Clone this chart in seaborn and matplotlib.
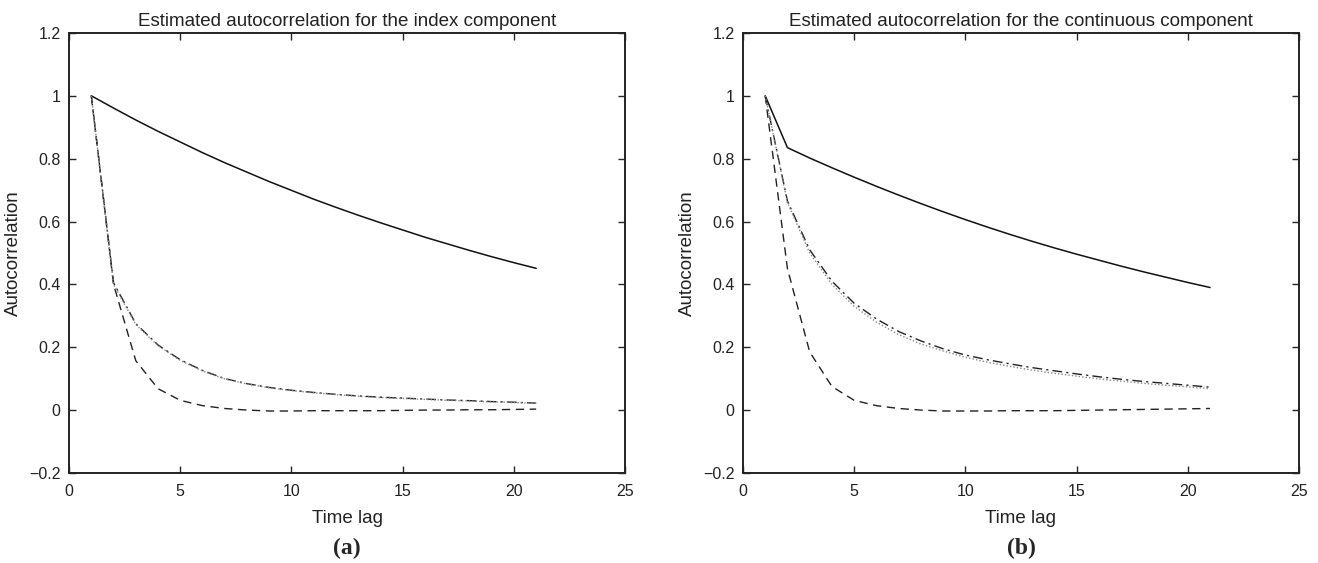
import numpy as np
import pandas as pd
import matplotlib.pyplot as plt
import seaborn as sns

# lags 1..21
lags = list(range(1, 22))

# panel (a): index component
a_solid = [1.0, 0.961, 0.923, 0.887, 0.853, 0.819, 0.787, 0.757, 0.727, 0.699, 0.671,
           0.645, 0.620, 0.596, 0.573, 0.550, 0.529, 0.508, 0.488, 0.469, 0.451]
a_dashed = [1.0, 0.40, 0.157, 0.068, 0.031, 0.014, 0.005, 0.0, -0.003, -0.003, -0.002,
            -0.002, -0.002, -0.002, -0.001, 0.0, 0.0, 0.001, 0.001, 0.002, 0.003]
a_dashdot = [1.0, 0.405, 0.275, 0.207, 0.160, 0.126, 0.100, 0.084, 0.072, 0.063, 0.056,
             0.050, 0.045, 0.041, 0.038, 0.035, 0.032, 0.030, 0.027, 0.025, 0.022]
a_dotted = [1.0, 0.400, 0.272, 0.205, 0.158, 0.124, 0.099, 0.083, 0.071, 0.062, 0.055,
            0.049, 0.044, 0.040, 0.037, 0.034, 0.031, 0.029, 0.026, 0.024, 0.021]

# panel (b): continuous component
b_solid = [1.0, 0.835, 0.802, 0.771, 0.741, 0.712, 0.684, 0.657, 0.631, 0.606, 0.582,
           0.559, 0.537, 0.516, 0.496, 0.477, 0.458, 0.440, 0.423, 0.406, 0.390]
b_dashed = [1.0, 0.45, 0.185, 0.075, 0.031, 0.014, 0.005, 0.0, -0.003, -0.003, -0.003,
            -0.002, -0.002, -0.002, -0.001, 0.0, 0.001, 0.002, 0.003, 0.004, 0.005]
b_dashdot = [1.0, 0.665, 0.510, 0.410, 0.340, 0.290, 0.250, 0.220, 0.195, 0.175, 0.160,
             0.147, 0.135, 0.125, 0.115, 0.106, 0.098, 0.091, 0.085, 0.079, 0.073]
b_dotted = [1.0, 0.660, 0.500, 0.400, 0.330, 0.280, 0.240, 0.210, 0.188, 0.168, 0.152,
            0.139, 0.127, 0.117, 0.108, 0.099, 0.092, 0.085, 0.079, 0.074, 0.068]

titles = ['Estimated autocorrelation for the index component',
          'Estimated autocorrelation for the continuous component']
panel_tags = ['(a)', '(b)']

sns.set_style('ticks')
plt.rcParams['font.family'] = ['Liberation Sans', 'DejaVu Sans']

fig = plt.figure(figsize=(13.18, 5.63), dpi=100)
ax_a = fig.add_axes([0.0524, 0.160, 0.4219, 0.7815])
ax_b = fig.add_axes([0.5637, 0.160, 0.4219, 0.7815])

panels = [(ax_a, a_solid, a_dashed, a_dashdot, a_dotted),
          (ax_b, b_solid, b_dashed, b_dashdot, b_dotted)]

for i, (ax, s, d, dd, dt) in enumerate(panels):
    sns.lineplot(x=lags, y=s, ax=ax, color='#111111', lw=1.1, linestyle='-')
    sns.lineplot(x=lags, y=d, ax=ax, color='#222222', lw=1.0,
                 linestyle=(0, (6, 4)))
    sns.lineplot(x=lags, y=dd, ax=ax, color='#222222', lw=1.0,
                 linestyle=(0, (7, 3, 1.5, 3)))
    sns.lineplot(x=lags, y=dt, ax=ax, color='#888888', lw=1.0,
                 linestyle=(0, (1, 1.5)))

    ax.set_xlim(0, 25)
    ax.set_ylim(-0.2, 1.2)
    ax.set_xticks([0, 5, 10, 15, 20, 25])
    ax.set_yticks([-0.2, 0, 0.2, 0.4, 0.6, 0.8, 1.0, 1.2])
    ax.set_yticklabels(['\u22120.2', '0', '0.2', '0.4', '0.6', '0.8', '1', '1.2'])
    ax.tick_params(direction='in', top=True, right=True, length=5, width=1,
                   labelsize=11.5, labelcolor='#222222')
    ax.tick_params(axis='x', pad=8)
    ax.tick_params(axis='y', pad=6)
    for sp in ax.spines.values():
        sp.set_linewidth(1.4)
        sp.set_color('#222222')
    ax.set_title(titles[i], fontsize=13.5, pad=5, color='#222222')
    ax.set_xlabel('Time lag', fontsize=13.5, labelpad=8, color='#222222')
    ax.set_ylabel('Autocorrelation', fontsize=13.5, labelpad=5, color='#222222')
    ax.text(0.5, -0.172, panel_tags[i], transform=ax.transAxes, ha='center', va='center',
            fontsize=17, fontweight='bold', family='Liberation Serif')

fig.savefig('out.png', dpi=100)
